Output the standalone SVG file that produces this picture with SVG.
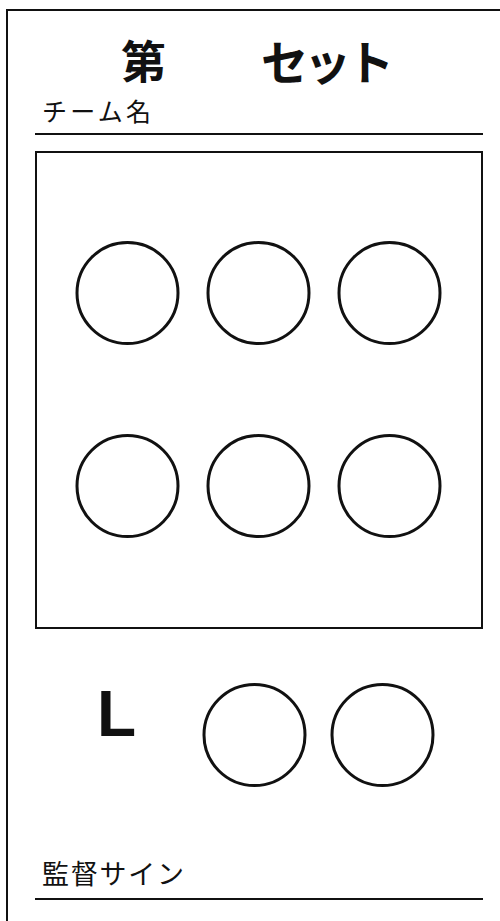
<svg xmlns="http://www.w3.org/2000/svg" width="500" height="921" viewBox="0 0 500 921">
<style>
.ln{stroke:#111;stroke-width:2;fill:none}
.c{stroke:#111;stroke-width:3;fill:none}
.t{font-family:"Noto Sans CJK JP","Noto Sans",sans-serif;fill:#111}
</style>
<rect width="500" height="921" fill="#fff"/>
<g id="frame">
<path class="ln" d="M7,921 V10 H500"/>
</g>
<g id="title">
<text class="t" x="121" y="79" font-size="45" font-weight="bold">第</text>
<text class="t" x="261" y="80" font-size="47" font-weight="bold" textLength="133" lengthAdjust="spacing">セット</text>
</g>
<g id="team-name">
<text class="t" x="42" y="121" font-size="25" textLength="109" lengthAdjust="spacing">チーム名</text>
<line class="ln" x1="35" y1="134" x2="483" y2="134"/>
</g>
<g id="court">
<rect class="ln" x="36" y="152" width="446" height="476"/>
</g>
<g id="positions">
<circle class="c" cx="127.5" cy="293" r="50.5"/>
<circle class="c" cx="258.5" cy="293" r="50.5"/>
<circle class="c" cx="389.5" cy="293" r="50.5"/>
<circle class="c" cx="127.5" cy="486" r="50.5"/>
<circle class="c" cx="258.5" cy="486" r="50.5"/>
<circle class="c" cx="389.5" cy="486" r="50.5"/>
</g>
<g id="libero">
<text x="97" y="736" font-family="Liberation Sans, Arial, sans-serif" font-size="64" font-weight="bold" fill="#111">L</text>
<circle class="c" cx="254.5" cy="735" r="50.5"/>
<circle class="c" cx="382.5" cy="735" r="50.5"/>
</g>
<g id="coach-sign">
<text class="t" x="42" y="884" font-size="27" textLength="142" lengthAdjust="spacing">監督サイン</text>
<line class="ln" x1="35" y1="899" x2="483" y2="899"/>
</g>
<g id="connectors"/>
</svg>
